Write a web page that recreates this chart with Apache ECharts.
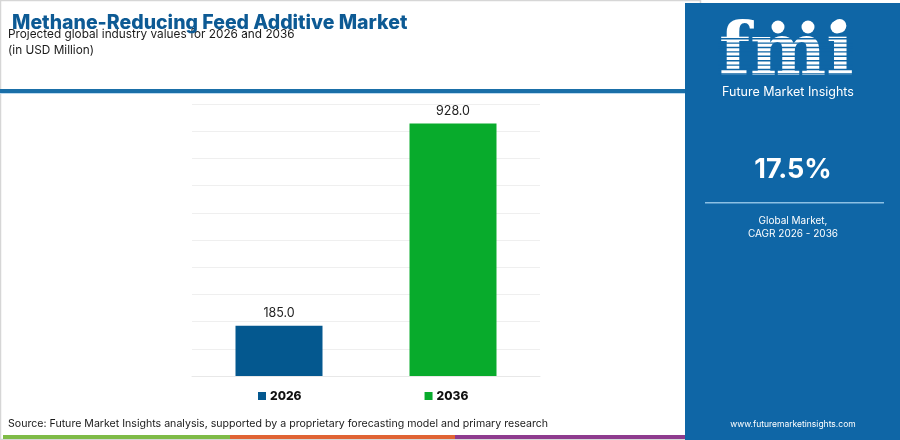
<!DOCTYPE html>
<html>
<head>
<meta charset="utf-8">
<script src="https://cdn.jsdelivr.net/npm/echarts@6/dist/echarts.min.js"></script>
<style>
html,body{margin:0;padding:0;background:#fff;}
#chart{width:900px;height:440px;}
</style>
</head>
<body>
<div id="chart"></div>
<script>
var categories = ['2026', '2036'];
var values = [185.0, 928.0];
var seriesColors = ['#04588f', '#08ab2c'];
var yTicks = { min: 0, max: 1000, interval: 100 };
var cagrText = '17.5%';

var chart = echarts.init(document.getElementById('chart'), null, {renderer: 'canvas'});
var FONT = 'Inter, "Noto Sans", sans-serif';

var series = categories.map(function (cat, i) {
  return {
    name: cat,
    type: 'bar',
    stack: 'total',
    barWidth: '50%',
    itemStyle: { color: seriesColors[i] },
    label: {
      show: true, position: 'top', distance: 6,
      fontFamily: FONT, fontSize: 12.5, color: '#222',
      formatter: function (p) { return Number(p.value).toFixed(1); }
    },
    data: categories.map(function (c, j) { return j === i ? values[i] : '-'; })
  };
});

// decorative network lines in side panel
var netPts = [[705,255],[730,290],[760,275],[790,300],[820,268],[850,290],[880,260],[870,330],[840,350],[800,345],[760,360],[725,330],[715,380],[770,400],[830,395],[885,370],[745,315],[815,320]];
var netLinks = [[0,1],[1,2],[2,3],[3,4],[4,5],[5,6],[6,7],[7,8],[8,9],[9,10],[10,11],[11,0],[11,12],[12,13],[13,14],[14,15],[15,7],[1,16],[16,9],[3,17],[17,8],[2,16],[4,17],[10,13],[9,14]];
var netGraphics = netLinks.map(function (l) {
  return { type: 'line', shape: { x1: netPts[l[0]][0], y1: netPts[l[0]][1], x2: netPts[l[1]][0], y2: netPts[l[1]][1] },
    style: { stroke: 'rgba(170,210,240,0.22)', lineWidth: 0.8 }, silent: true };
});

// logo stripes
var stripes = [];
for (var k = 0; k < 10; k++) {
  stripes.push({ type: 'rect', shape: { x: 718, y: 38 + k * 4.4, width: 135, height: 1.4 }, style: { fill: '#0f66a6' }, z: 12, silent: true });
}

chart.setOption({
  animation: false,
  backgroundColor: '#ffffff',
  title: [{
    text: 'Methane-Reducing Feed Additive Market',
    left: 7, top: 8,
    textStyle: { fontFamily: FONT, fontWeight: 800, fontSize: 19.5, color: '#0d5a94' }
  }],
  legend: {
    data: categories,
    top: 390, left: 258, padding: 0,
    itemWidth: 8, itemHeight: 8, itemGap: 123,
    icon: 'rect',
    textStyle: { fontFamily: FONT, fontWeight: 800, fontSize: 12, color: '#111', padding: [0, 0, 0, -1] }
  },
  grid: { left: 192, right: 360, top: 104, bottom: 64, containLabel: false },
  xAxis: {
    type: 'category', data: categories,
    axisLine: { show: true, lineStyle: { color: '#e8e8e8' } },
    axisTick: { show: false }, axisLabel: { show: false }
  },
  yAxis: {
    type: 'value', min: yTicks.min, max: yTicks.max, interval: yTicks.interval,
    axisLine: { show: false }, axisTick: { show: false }, axisLabel: { show: false },
    splitLine: { lineStyle: { color: '#efefef', width: 1 } }
  },
  series: series,
  graphic: [
    { type: 'rect', shape: { x: 0.5, y: 0.5, width: 700, height: 439 }, style: { fill: 'none', stroke: '#d6d6d6', lineWidth: 1.5 }, silent: true, z: -1 },
    { type: 'text', left: 8, top: 28, style: { text: 'Projected global industry values for 2026 and 2036', font: '11.8px ' + FONT, fill: '#1a1a1a' } },
    { type: 'text', left: 8, top: 44, style: { text: '(in USD Million)', font: '11.8px ' + FONT, fill: '#1a1a1a' } },
    { type: 'rect', shape: { x: 0, y: 89, width: 686, height: 4 }, style: { fill: '#1a6fa8' }, silent: true },
    { type: 'rect', shape: { x: 0, y: 93, width: 686, height: 1 }, style: { fill: '#bcdaf0' }, silent: true },
    { type: 'text', left: 8, top: 418, style: { text: 'Source: Future Market Insights analysis, supported by a proprietary forecasting model and primary research', font: '10.6px ' + FONT, fill: '#1a1a1a' } },
    { type: 'rect', shape: { x: 3, y: 435, width: 227, height: 4 }, style: { fill: '#7fbb47' }, silent: true },
    { type: 'rect', shape: { x: 230, y: 435, width: 225, height: 4 }, style: { fill: '#e06434' }, silent: true },
    { type: 'rect', shape: { x: 455, y: 435, width: 231, height: 4 }, style: { fill: '#8e3b8e' }, silent: true },
    { type: 'rect', shape: { x: 685, y: 3, width: 215, height: 437 }, style: { fill: '#0f66a6' }, silent: true, z: 5 },
    { type: 'group', z: 6, silent: true, children: netGraphics },
    { type: 'text', left: 719, top: 20, z: 10, style: { text: 'fmi', font: 'bold 72px "DejaVu Serif", serif', fill: '#ffffff' } },
    { type: 'group', z: 12, silent: true, children: stripes },
    { type: 'circle', shape: { cx: 778, cy: 27, r: 6.5 }, style: { fill: '#ffffff' }, z: 13, silent: true },
    { type: 'circle', shape: { cx: 808, cy: 27, r: 6.5 }, style: { fill: '#ffffff' }, z: 13, silent: true },
    { type: 'circle', shape: { cx: 837, cy: 27, r: 6.5 }, style: { fill: '#ffffff' }, z: 13, silent: true },
    { type: 'text', x: 788, y: 92, z: 10, style: { text: 'Future Market Insights', font: '12.5px ' + FONT, fill: '#ffffff', align: 'center', verticalAlign: 'middle' } },
    { type: 'text', x: 793, y: 170, z: 10, style: { text: cagrText, font: 'bold 27px ' + FONT, fill: '#ffffff', align: 'center', verticalAlign: 'middle' } },
    { type: 'rect', shape: { x: 705, y: 202, width: 179, height: 1.5 }, style: { fill: '#8cc0e4' }, z: 10, silent: true },
    { type: 'text', x: 793, y: 221, z: 10, style: { text: 'Global Market,', font: '10px ' + FONT, fill: '#ffffff', align: 'center', verticalAlign: 'middle' } },
    { type: 'text', x: 793, y: 234, z: 10, style: { text: 'CAGR 2026 - 2036', font: '10px ' + FONT, fill: '#ffffff', align: 'center', verticalAlign: 'middle' } },
    { type: 'text', x: 793, y: 424, z: 10, style: { text: 'www.futuremarketinsights.com', font: '8.5px ' + FONT, fill: '#ffffff', align: 'center', verticalAlign: 'middle' } }
  ]
});
</script>
</body>
</html>
